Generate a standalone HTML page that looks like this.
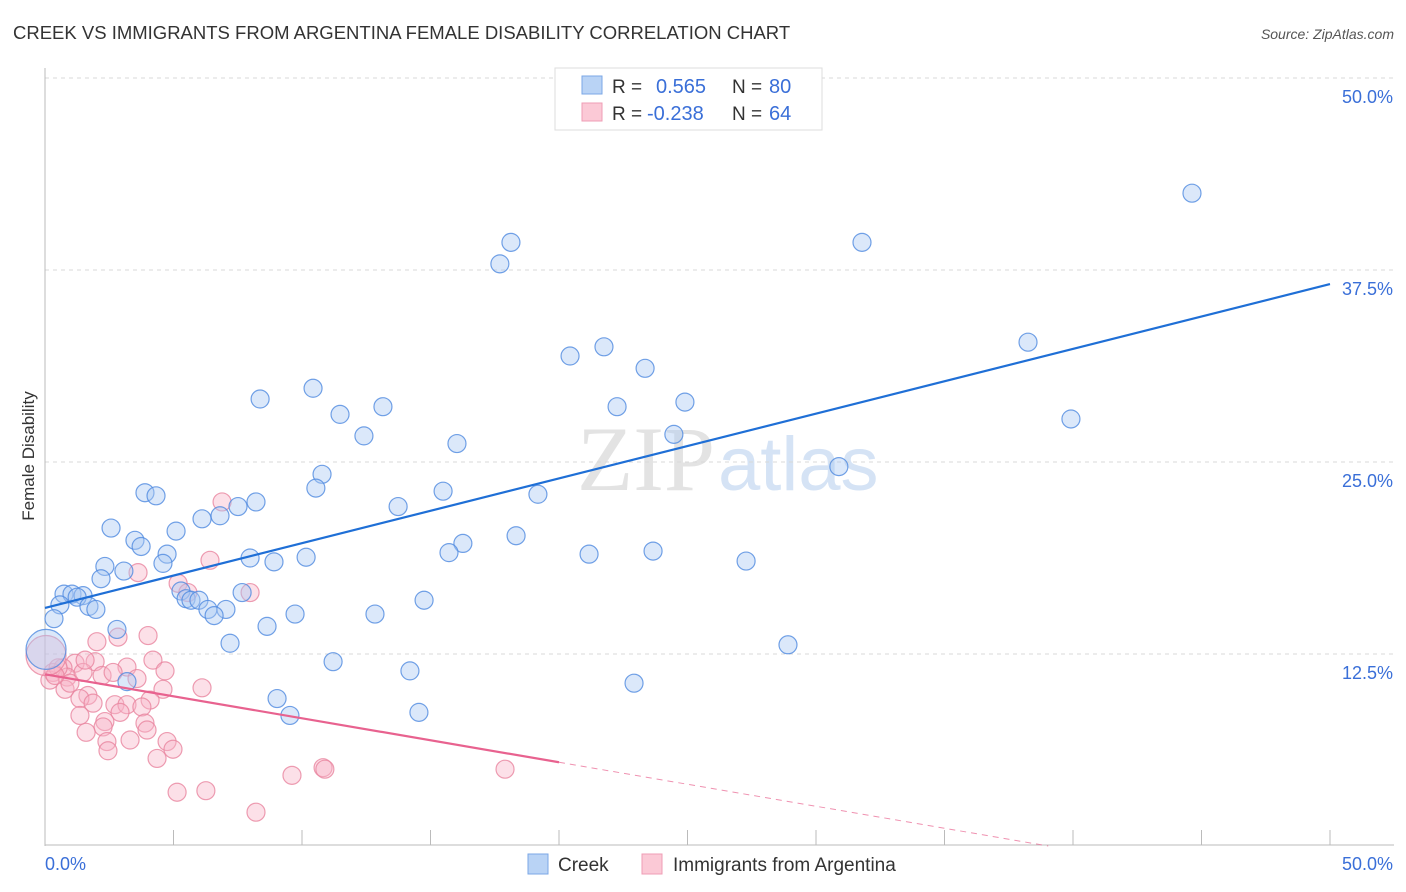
<!DOCTYPE html>
<html><head><meta charset="utf-8"><style>
body{margin:0;background:#fff;font-family:"Liberation Sans",sans-serif;}
svg{display:block}
</style></head><body>
<svg id="chart" width="1406" height="892">
<text x="13" y="39" font-size="18.5" fill="#333">CREEK VS IMMIGRANTS FROM ARGENTINA FEMALE DISABILITY CORRELATION CHART</text>
<text x="1394" y="39" font-size="14" fill="#555" font-style="italic" text-anchor="end">Source: ZipAtlas.com</text>
<text x="715" y="490" font-size="92" fill="#e3e3e3" font-family="Liberation Serif,serif" text-anchor="end">ZIP</text>
<text x="718" y="490" font-size="76" fill="#d5e3f5">atlas</text>
<g id="grid"></g>
<g id="marks"></g>
<text transform="translate(34,456) rotate(-90)" font-size="17" fill="#333" text-anchor="middle">Female Disability</text>
<g>
<rect x="555" y="68" width="267" height="62" fill="#fff" stroke="#ddd"/>
<rect x="582" y="76" width="20" height="18" fill="#b9d3f5" stroke="#7ba7e6"/>
<rect x="582" y="103" width="20" height="18" fill="#fbc9d6" stroke="#ef9db5"/>
<text x="612" y="93" font-size="19" fill="#333">R = </text><text x="656" y="93" font-size="20" fill="#3a6fd8">0.565</text>
<text x="732" y="93" font-size="19" fill="#333">N = </text><text x="769" y="93" font-size="20" fill="#3a6fd8">80</text>
<text x="612" y="120" font-size="19" fill="#333">R = </text><text x="647" y="120" font-size="20" fill="#3a6fd8">-0.238</text>
<text x="732" y="120" font-size="19" fill="#333">N = </text><text x="769" y="120" font-size="20" fill="#3a6fd8">64</text>
</g>
<g>
<rect x="528" y="854" width="20" height="20" fill="#b9d3f5" stroke="#7ba7e6"/>
<text x="558" y="871" font-size="19" fill="#333">Creek</text>
<rect x="642" y="854" width="20" height="20" fill="#fbc9d6" stroke="#ef9db5"/>
<text x="673" y="871" font-size="19" fill="#333">Immigrants from Argentina</text>
</g>
</svg>
<script>
const creekX=[44.63,18.13,31.79,17.70,38.25,21.75,20.43,23.35,10.43,8.37,24.90,13.15,22.26,11.48,39.92,12.41,24.47,16.03,30.89,10.78,3.89,4.32,10.54,15.49,19.18,8.21,7.51,13.74,6.81,6.11,2.57,5.10,18.33,3.50,3.74,16.26,15.72,4.75,23.66,21.17,7.98,8.91,10.16,27.28,2.33,3.07,4.59,2.18,0.74,1.05,1.48,1.25,0.58,1.71,1.98,5.29,5.49,5.68,5.99,6.34,7.04,6.58,7.67,9.73,12.84,14.75,0.35,8.64,2.80,7.20,28.91,11.21,14.20,3.19,22.92,9.03,9.53,14.55,0.04];
const creekY=[42.5,39.3,39.3,37.9,32.8,32.5,31.9,31.1,29.8,29.1,28.9,28.6,28.6,28.1,27.8,26.7,26.8,26.2,24.7,24.2,23.0,22.8,23.3,23.1,22.9,22.4,22.1,22.1,21.5,21.3,20.7,20.5,20.2,19.9,19.5,19.7,19.1,19.0,19.2,19.0,18.75,18.5,18.8,18.55,18.2,17.9,18.4,17.4,16.4,16.4,16.3,16.2,15.7,15.6,15.4,16.6,16.1,16.0,16.0,15.4,15.4,15.0,16.5,15.1,15.1,16.0,14.8,14.3,14.1,13.2,13.1,12.0,11.4,10.7,10.6,9.6,8.5,8.7,12.8];
const argX=[6.89,6.42,3.62,5.18,5.56,7.98,2.02,2.84,4.01,4.20,4.67,3.19,1.95,1.17,0.70,0.31,0.19,0.86,1.48,2.22,2.65,3.58,4.59,6.11,0.78,1.67,1.36,1.87,2.72,3.19,4.09,3.77,2.92,1.36,2.33,2.26,3.89,3.97,1.60,2.41,3.31,4.75,2.45,4.98,4.36,9.61,10.82,10.89,5.14,6.26,8.21,17.90,0.51,0.97,1.56,0.39,0.04];
const argY=[22.4,18.6,17.8,17.1,16.5,16.5,13.3,13.6,13.7,12.1,11.4,11.65,12.0,11.9,11.6,11.3,10.8,11.0,11.3,11.1,11.3,10.9,10.2,10.3,10.2,9.8,9.6,9.3,9.2,9.2,9.5,9.05,8.7,8.5,8.1,7.75,8.0,7.55,7.4,6.8,6.9,6.8,6.2,6.3,5.7,4.6,5.1,5.0,3.5,3.6,2.2,5.0,11.6,10.6,12.1,11.1,12.4];
const yTicks=[12.5,25.0,37.5,50.0];
const xTickVals=[0,5,10,15,20,25,30,35,40,45,50];
const NS='http://www.w3.org/2000/svg';
const X=v=>45+v*25.7, Y=v=>846-v*15.36;
const grid=document.getElementById('grid'), marks=document.getElementById('marks');
function mk(tag,attrs,parent){const e=document.createElementNS(NS,tag);for(const k in attrs)e.setAttribute(k,attrs[k]);parent.appendChild(e);return e;}
yTicks.forEach(t=>{
 const l=mk('line',{x1:45,x2:1394,y1:Y(t),y2:Y(t),stroke:'#d8d8d8','stroke-dasharray':'4,4'},grid);
 
 
 const tx=mk('text',{x:1393,y:Y(t)+25,'font-size':18,fill:'#3a6fd8','text-anchor':'end'},grid);
 tx.textContent=t.toFixed(1)+'%';
 
 
});
const ax=mk('line',{x1:45,x2:45,y1:68,y2:846,stroke:'#bbb'},grid);


const bx=mk('line',{x1:45,x2:1394,y1:845,y2:845,stroke:'#bbb'},grid);


xTickVals.forEach(t=>{
 const l=mk('line',{x1:X(t),x2:X(t),y1:830,y2:845,stroke:'#bbb'},grid);
 
 
});
const xl0=mk('text',{x:45,y:870,'font-size':18,fill:'#3a6fd8'},grid);xl0.textContent=xTickVals[0].toFixed(1)+'%';


const xl1=mk('text',{x:1393,y:870,'font-size':18,fill:'#3a6fd8','text-anchor':'end'},grid);xl1.textContent=xTickVals[xTickVals.length-1].toFixed(1)+'%';


function dots(xs,ys,fill,stroke,name){
 xs.forEach((x,i)=>{
  const big=(x<0.1);
  const c=mk('circle',{cx:X(x),cy:Y(ys[i]),r:big?20:9,fill:fill,'fill-opacity':0.42,stroke:stroke,'stroke-opacity':0.8,'stroke-width':1.2},marks);
  
  
 });
}
function fit(xs,ys){const n=xs.length;let mx=0,my=0;xs.forEach((x,i)=>{mx+=x;my+=ys[i]});mx/=n;my/=n;let sxy=0,sxx=0;xs.forEach((x,i)=>{sxy+=(x-mx)*(ys[i]-my);sxx+=(x-mx)*(x-mx)});const b=sxy/sxx;return [my-b*mx,b];}
dots(argX,argY,'#f7b6c9','#e8849f','argentina-point');
dots(creekX,creekY,'#a9c9f2','#4f8ae0','creek-point');
const [ca,cb]=fit(creekX,creekY);
const cl=mk('line',{x1:X(0),y1:Y(ca),x2:X(50),y2:Y(ca+cb*50),stroke:'#1f6fd6','stroke-width':2.2},marks);


const [aa,ab]=fit(argX,argY);
const xe=20;
const al=mk('line',{x1:X(0),y1:Y(aa),x2:X(xe),y2:Y(aa+ab*xe),stroke:'#e8628f','stroke-width':2.2},marks);


const xz=Math.min(50,-aa/ab);
const ad=mk('line',{x1:X(xe),y1:Y(aa+ab*xe),x2:X(xz),y2:Y(aa+ab*xz),stroke:'#e8628f','stroke-width':1,'stroke-dasharray':'6,5','stroke-opacity':0.7},marks);


</script>
</body></html>
